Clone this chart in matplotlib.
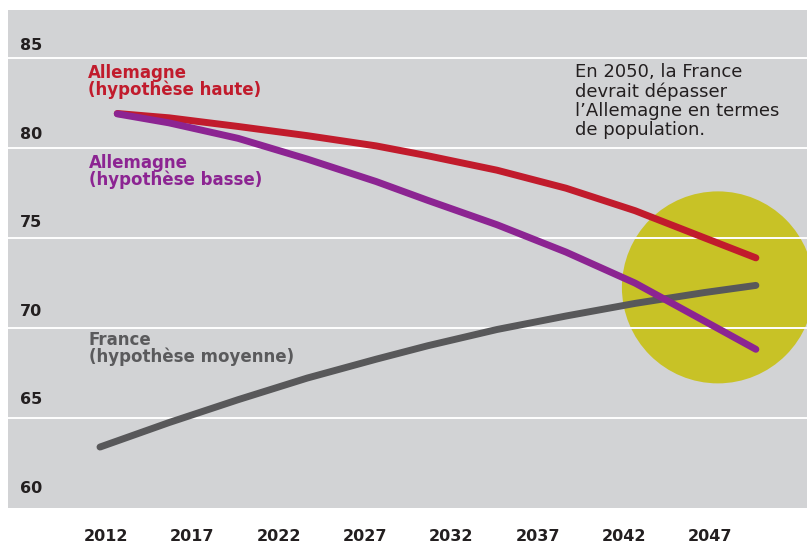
import matplotlib
matplotlib.use("Agg")
import matplotlib.pyplot as plt
from matplotlib.patches import Ellipse
from matplotlib.transforms import ScaledTranslation

# ---- data ----
years_fr = [2012, 2016, 2020, 2024, 2028, 2031, 2035, 2039, 2043, 2047, 2050]
france = [63.37, 64.73, 66.0, 67.2, 68.25, 69.0, 69.9, 70.65, 71.35, 71.95, 72.35]

years_de = [2013, 2016, 2020, 2024, 2028, 2031, 2035, 2039, 2043, 2047, 2050]
de_haute = [81.9, 81.66, 81.18, 80.67, 80.1, 79.55, 78.75, 77.75, 76.5, 75.0, 73.88]
de_basse = [81.88, 81.38, 80.52, 79.37, 78.12, 77.07, 75.72, 74.2, 72.48, 70.38, 68.8]

x_ticks = [2012, 2017, 2022, 2027, 2032, 2037, 2042, 2047]
y_ticks = [60, 65, 70, 75, 80, 85]
grid_vals = [65, 70, 75, 80, 85]

label_haute = "Allemagne\n(hypothèse haute)"
label_basse = "Allemagne\n(hypothèse basse)"
label_france = "France\n(hypothèse moyenne)"
note = "En 2050, la France\ndevrait dépasser\nl’Allemagne en termes\nde population."

highlight_center = (2047.8, 72.24)

# ---- style ----
BG = "#d2d3d5"
RED = "#c11b2c"
PURPLE = "#8c2492"
DARK = "#58585a"
YELLOW = "#c8c226"
TXT = "#231f20"

W, H = 807, 543
fig = plt.figure(figsize=(W / 100, H / 100), dpi=100)
fig.patch.set_facecolor("white")

ax = fig.add_axes([8 / W, (H - 507.7) / H, (W - 8) / W, 497.7 / H])
ax.set_facecolor(BG)
ax.set_xlim(2012 - 92 / 17.26, 2012 + 707 / 17.26)
ax.set_ylim(60, 60 + 497.7 / 18)
for s in ax.spines.values():
    s.set_visible(False)

for v in grid_vals:
    ax.axhline(v, color="white", lw=1.4, zorder=1)

circ = Ellipse(highlight_center, width=2 * 96 / 17.26, height=2 * 96 / 18,
               facecolor=YELLOW, edgecolor="none", zorder=0.5)
ax.add_patch(circ)

lw = 5
ax.plot(years_fr, france, color=DARK, lw=lw, solid_capstyle="round",
        solid_joinstyle="round", zorder=3)
ax.plot(years_de, de_haute, color=RED, lw=lw, solid_capstyle="round",
        solid_joinstyle="round", zorder=3)
ax.plot(years_de, de_basse, color=PURPLE, lw=lw, solid_capstyle="round",
        solid_joinstyle="round", zorder=4)

# x ticks
ax.set_xticks(x_ticks)
ax.set_xticklabels([str(y) for y in x_ticks], fontsize=11.5,
                   fontweight="bold", color=TXT)
ax.tick_params(axis="x", length=0, pad=15)
off = ScaledTranslation(6 / 100, 0, fig.dpi_scale_trans)
for lab in ax.get_xticklabels():
    lab.set_transform(lab.get_transform() + off)

# y ticks as labels inside the plot area, above gridlines
ax.set_yticks([])
tr = ax.get_yaxis_transform()
for v in y_ticks:
    ypos = v + 0.68 + (85 - v) * 0.0155
    ax.text(12 / 799, ypos, str(v), transform=tr, fontsize=11.5,
            fontweight="bold", color=TXT, ha="left", va="center")

def ftext(x, y, s, **kw):
    fig.text(x / W, 1 - y / H, s, **kw)

ftext(88, 64, label_haute, fontsize=12, fontweight="bold", color=RED,
      va="top", ha="left", linespacing=0.92)
ftext(89, 154, label_basse, fontsize=12, fontweight="bold", color=PURPLE,
      va="top", ha="left", linespacing=0.92)
ftext(89, 331, label_france, fontsize=12, fontweight="bold", color="#5a5a5c",
      va="top", ha="left", linespacing=0.92)
ftext(575, 63, note, fontsize=13, color=TXT, va="top", ha="left",
      linespacing=1.08)

fig.savefig("out.png", dpi=100, facecolor="white")
